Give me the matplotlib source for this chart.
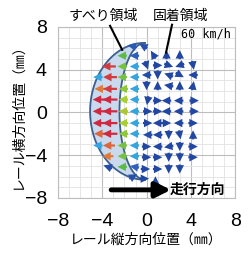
import numpy as np
import matplotlib
matplotlib.use("Agg")
import matplotlib.pyplot as plt
from matplotlib.colors import LinearSegmentedColormap

plt.rcParams['font.family'] = ['Noto Sans CJK JP', 'DejaVu Sans']

# --- data ---
# slip region arrows: x, y (mm), direction (deg), relative slip magnitude (0-1)
slip_x = [-2.2,
          -3.4, -2.2, -1.1,
          -4.4, -3.3, -2.2, -1.1,
          -4.2, -3.3, -2.1, -1.1,
          -4.2, -3.3, -2.1, -1.1,
          -4.2, -3.3, -2.1, -1.1,
          -4.2, -3.3, -2.1, -1.1,
          -4.2, -3.3, -2.1, -1.1,
          -4.4, -3.4, -2.2, -1.1,
          -3.5, -2.2, -1.1,
          -3.5, -2.2, -1.1]
slip_y = [5.3,
          4.3, 4.3, 4.3,
          3.3, 3.3, 3.3, 3.3,
          2.2, 2.2, 2.2, 2.2,
          1.2, 1.2, 1.2, 1.2,
          0.1, 0.1, 0.1, 0.1,
          -1.0, -1.0, -1.0, -1.0,
          -2.0, -2.0, -2.0, -2.0,
          -3.1, -3.1, -3.1, -3.1,
          -4.1, -4.1, -4.1,
          -5.1, -5.1, -5.1]
slip_ang = [180] * 35 + [160, 180, 170]
slip_mag = [0.45,
            0.95, 0.5, 0.3,
            0.3, 0.95, 0.5, 0.3,
            0.8, 0.95, 0.55, 0.3,
            1.0, 1.0, 0.6, 0.3,
            1.0, 1.0, 0.62, 0.3,
            1.0, 1.0, 0.6, 0.3,
            0.85, 1.0, 0.55, 0.3,
            0.3, 0.85, 0.5, 0.3,
            0.8, 0.5, 0.3,
            0.08, 0.45, 0.2]

# stick region triangles: x, y (mm), direction (deg)
stick_x = [-1.3, -0.3,
           -1.1, 0.6, 1.8, 3.0,
           0.0, 1.0, 2.0, 3.0, 4.2,
           0.0, 1.0, 2.0, 3.0, 4.2,
           0.0, 1.0, 2.0, 3.0, 4.2,
           0.1, 1.0, 1.8, 2.9, 4.3,
           0.1, 1.0, 1.8, 2.9, 4.3,
           0.1, 1.0, 1.8, 2.9, 4.2,
           0.1, 1.0, 2.0, 3.0, 4.2,
           0.0, 1.0, 2.0, 3.0, 4.2,
           0.0, 1.0, 2.0, 3.0, 4.2,
           -0.1, 1.0, 2.0, 3.0,
           -1.2, -0.2, 0.8]
stick_y = [6.2, 6.2,
           5.3, 5.4, 5.4, 5.4,
           4.4, 4.4, 4.4, 4.4, 4.4,
           3.5, 3.5, 3.5, 3.5, 3.5,
           2.5, 2.5, 2.5, 2.5, 2.5,
           1.1, 1.1, 1.1, 1.1, 1.1,
           0.1, 0.1, 0.1, 0.1, 0.1,
           -1.0, -1.0, -1.0, -1.0, -1.0,
           -2.1, -2.1, -2.1, -2.1, -2.1,
           -3.2, -3.2, -3.2, -3.2, -3.2,
           -4.2, -4.2, -4.2, -4.2, -4.2,
           -5.3, -5.3, -5.3, -5.3,
           -6.0, -6.2, -6.4]
stick_ang = [170, 150,
             180, 120, 90, 90,
             -70, 0, -20, 200, -80,
             180, -90, 160, -30, 180,
             -90, 90, 170, 90, 80,
             -100, 0, 180, 180, 0,
             0, 0, 180, 180, 0,
             0, 180, 0, 180, 0,
             180, 180, -90, -80, 90,
             0, 180, 190, -90, 0,
             0, 0, -90, -90, 0,
             0, 0, -90, -90,
             30, 0, 90]
stick_mag = [0.15, 0.1,
             0.18, 0.05, 0.05, 0.05,
             0.05, 0.05, 0.05, 0.05, 0.05,
             0.08, 0.05, 0.05, 0.05, 0.05,
             0.05, 0.05, 0.05, 0.05, 0.05,
             0.05, 0.05, 0.05, 0.05, 0.05,
             0.05, 0.05, 0.05, 0.05, 0.05,
             0.05, 0.05, 0.05, 0.05, 0.05,
             0.08, 0.05, 0.05, 0.05, 0.05,
             0.05, 0.05, 0.05, 0.05, 0.05,
             0.05, 0.05, 0.05, 0.05, 0.05,
             0.05, 0.05, 0.05, 0.05,
             0.1, 0.05, 0.05]

# contact patch (mm)
patch_cx, patch_cy = -0.15, 0.1
outer_a, inner_a, patch_b = 4.95, 2.3, 6.4

x_ticks = [-8, -4, 0, 4, 8]
y_ticks = [-8, -4, 0, 4, 8]

cmap = LinearSegmentedColormap.from_list(
    'slip', [(0.0, '#1d3f99'), (0.2, '#2f62c0'), (0.3, '#35a6e0'),
             (0.45, '#5cba48'), (0.6, '#a8cf32'), (0.8, '#e07a3a'),
             (1.0, '#cf2840')])

fig = plt.figure(figsize=(2.48, 2.56), dpi=100)
ax = fig.add_axes([0.234, 0.227, 0.714, 0.668])

# grid
ax.set_xlim(-8, 8)
ax.set_ylim(-8, 8)
ax.set_xticks(x_ticks)
ax.set_yticks(y_ticks)
ax.set_xticks(np.arange(-8, 9, 1), minor=True)
ax.set_yticks(np.arange(-8, 9, 1), minor=True)
ax.grid(which='minor', color='#e2e2e2', linewidth=0.6)
ax.grid(which='major', color='#bdbdbd', linewidth=0.8)
ax.set_axisbelow(True)
ax.tick_params(which='both', length=0)
ax.tick_params(axis='x', pad=11)
ax.tick_params(axis='y', pad=8)
for lab in ax.get_xticklabels() + ax.get_yticklabels():
    lab.set_fontfamily('Liberation Sans')
    lab.set_fontsize(14)
for s in ax.spines.values():
    s.set_color('#bdbdbd')
    s.set_linewidth(0.8)

# slip region (crescent)
t = np.linspace(np.pi / 2, 3 * np.pi / 2, 100)
ox = patch_cx + outer_a * np.cos(t)
oy = patch_cy + patch_b * np.sin(t)
ix = patch_cx + inner_a * np.cos(t)
iy = patch_cy + patch_b * np.sin(t)
ax.fill(np.r_[ox, ix[::-1]], np.r_[oy, iy[::-1]], color='#c9daee', zorder=1)
ax.plot(ox, oy, color='#3f5f8f', linewidth=1.3, zorder=2)
ax.plot(ix, iy, color='#3f5f8f', linewidth=1.3, zorder=2)

# arrows
all_x = np.array(slip_x + stick_x)
all_y = np.array(slip_y + stick_y)
all_ang = np.radians(slip_ang + stick_ang)
all_mag = np.array(slip_mag + stick_mag)
length = 0.85 + np.clip(all_mag - 0.7, 0, None) * 1.6
ax.quiver(all_x, all_y, length * np.cos(all_ang), length * np.sin(all_ang),
          all_mag, cmap=cmap, clim=(0, 1), pivot='middle',
          angles='xy', scale_units='xy', scale=1,
          width=0.0125, headwidth=3.8, headlength=3.8, headaxislength=3.8,
          zorder=3)

# labels on the regions
ax.text(-3.9, 9.0, 'すべり領域', fontsize=10, ha='center', va='center', clip_on=False)
ax.text(3.1, 9.0, '固着領域', fontsize=10, ha='center', va='center', clip_on=False)
ax.plot([-3.3, -2.2], [8.1, 5.85], color='black', linewidth=1.5, clip_on=False, zorder=4)
ax.plot([2.3, 1.76], [8.2, 5.6], color='black', linewidth=1.5, clip_on=False, zorder=4)
ax.text(7.6, 7.3, '60 km/h', fontsize=8.5, family='DejaVu Sans Mono',
        ha='right', va='center')

# running direction
ax.annotate('', xy=(2.2, -7.25), xytext=(-3.2, -7.25),
            arrowprops=dict(arrowstyle='-|>,head_length=0.9,head_width=0.45',
                            color='black', linewidth=3.5, shrinkA=0, shrinkB=0))
ax.text(2.1, -7.25, '走行方向', fontsize=10, fontweight='bold', ha='left', va='center')

ax.set_xlabel('レール縦方向位置（㎜）', fontsize=10, labelpad=2)
ax.set_ylabel('レール横方向位置（㎜）', fontsize=10, labelpad=0)

fig.savefig('out.png', dpi=100)
